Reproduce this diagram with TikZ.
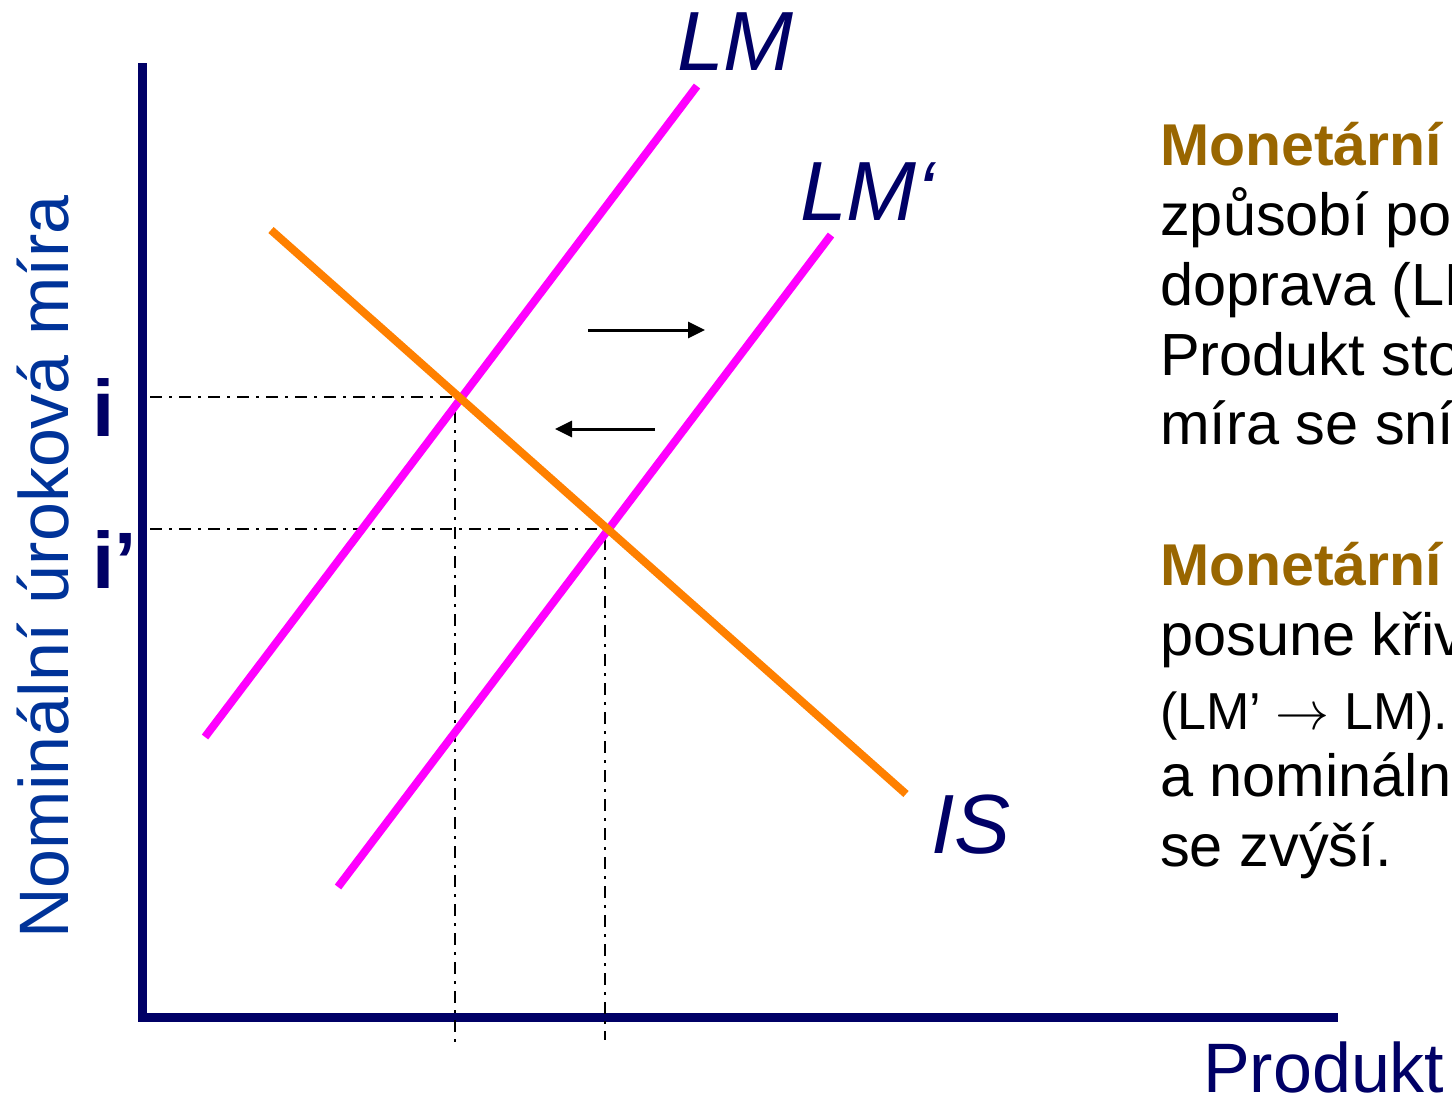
\documentclass[tikz,border=0pt]{standalone}
\usepackage{fontspec}
\setmainfont{Liberation Sans}
\usetikzlibrary{arrows.meta}
\definecolor{navy}{RGB}{0,0,102}
\definecolor{ylab}{RGB}{0,51,153}
\definecolor{brownish}{RGB}{153,102,0}
\definecolor{mag}{RGB}{255,0,255}
\definecolor{orng}{RGB}{255,128,0}
\newcommand{\bigarrow}{{\fontsize{10}{12}\selectfont\scalebox{5.4}{$\rightarrow$}}}
\tikzset{
  axisline/.style={draw=navy, line width=9pt},
  lmline/.style={draw=mag, line width=8pt},
  isline/.style={draw=orng, line width=8pt},
  guide/.style={draw=black, line width=2.5pt, dash pattern=on 12pt off 7pt on 3pt off 7pt},
  shiftarrow/.style={draw=black, line width=3pt, -{Triangle[length=17pt,width=16pt]}},
  curvelabel/.style={inner sep=0pt, anchor=base west, text=navy, font=\fontsize{84}{90}\selectfont\itshape},
  ilabel/.style={inner sep=0pt, anchor=base west, text=navy, font=\fontsize{80}{90}\selectfont\bfseries},
  bodytext/.style={inner sep=0pt, anchor=base west, text=black, font=\fontsize{59.5}{70}\selectfont},
  headtext/.style={inner sep=0pt, anchor=base west, text=brownish, font=\fontsize{59}{70}\selectfont\bfseries},
}
\begin{document}
\begin{tikzpicture}[x=1pt,y=-1pt]
\useasboundingbox (0,0) rectangle (1452,1096);
\clip (0,0) rectangle (1452,1096);

% axes
\coordinate (ytop) at (142.5,63);
\coordinate (origin) at (142.5,1017);
\coordinate (xend) at (1338,1017);
\draw[axisline] (ytop) -- (origin) -- (xend);

% curves
\coordinate (lmA) at (205,737);
\coordinate (lmB) at (697,86);
\coordinate (lmpA) at (338,887);
\coordinate (lmpB) at (831,235);
\coordinate (isA) at (271,230);
\coordinate (isB) at (906,794);

% guides
\coordinate (E1) at (455,397);
\coordinate (E2) at (605,529);
\coordinate (h1) at (150,397);
\coordinate (h2) at (150,529);
\coordinate (v1) at (455,1047);
\coordinate (v2) at (605,1040);
\draw[guide] (h1) -- (E1) -- (v1);
\draw[guide] (h2) -- (E2) -- (v2);

\draw[lmline] (lmA) -- (lmB);
\draw[lmline] (lmpA) -- (lmpB);
\draw[isline] (isA) -- (isB);

% shift arrows
\coordinate (r1) at (588,330);
\coordinate (r2) at (705,330);
\coordinate (l1) at (655,429);
\coordinate (l2) at (555,429);
\draw[shiftarrow] (r1) -- (r2);
\draw[shiftarrow] (l1) -- (l2);

% labels
\node[curvelabel] (LM) at (677,70) {LM};
\node[curvelabel] (LMp) at (800,220) {LM‘};
\node[curvelabel] (IS) at (931,853) {IS};
\node[ilabel] (i1) at (92,436) {i};
\node[ilabel] (i2) at (92,588) {i’};
\node[inner sep=0pt, anchor=base, rotate=90, text=ylab, font=\fontsize{70}{80}\selectfont] (ylabel) at (68,567) {Nominální úroková míra};
\node[inner sep=0pt, anchor=base west, text=navy, font=\fontsize{70}{80}\selectfont] (xlabel) at (1203,1092) {Produkt};

% right text
\node[headtext] (t1) at (1160,165) {Monetární};
\node[bodytext] (t2) at (1160,235) {způsobí pos};
\node[bodytext] (t3) at (1160,305) {doprava (LM};
\node[bodytext] (t4) at (1160,375) {Produkt sto};
\node[bodytext] (t5) at (1160,444) {míra se sníz};
\node[headtext] (t6) at (1160,585) {Monetární};
\node[bodytext] (t7) at (1160,655) {posune křiv};
\node[bodytext, font=\fontsize{52}{70}\selectfont] (t8) at (1160,729) {(LM’ \bigarrow{} LM).};
\node[bodytext] (t9) at (1160,796) {a nominální};
\node[bodytext] (t10) at (1160,866) {se zvýší.};
\end{tikzpicture}
\end{document}
